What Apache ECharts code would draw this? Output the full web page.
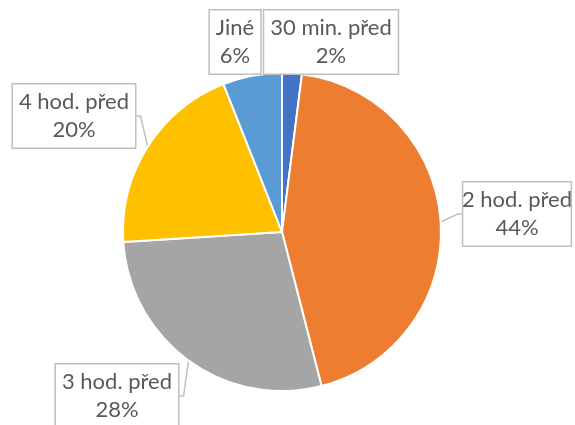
<!DOCTYPE html>
<html>
<head>
<meta charset="utf-8">
<script src="https://cdn.jsdelivr.net/npm/echarts@6/dist/echarts.min.js"></script>
<style>
  html, body { margin: 0; padding: 0; background: #fff; }
  #pieChart { width: 575px; height: 425px; }
</style>
</head>
<body>
<div id="pieChart"></div>
<script>
var categories = ['30 min. před', '2 hod. před', '3 hod. před', '4 hod. před', 'Jiné'];
var shares = [2, 44, 28, 20, 6];
var colors = ['#4472C4', '#ED7D31', '#A5A5A5', '#FFC000', '#5B9BD5'];

// where each callout box sits (centre of the box)
var labelSpots = [
  { x: 331, y: 42, line: false },
  { x: 517, y: 214, line: true },
  { x: 117, y: 396, line: true },
  { x: 74, y: 116, line: true },
  { x: 235, y: 42, line: false }
];

var pieChartDom = document.getElementById('pieChart');
var pieChart = echarts.init(pieChartDom);

var pieData = categories.map(function (name, i) {
  return {
    name: name,
    value: shares[i],
    itemStyle: { color: colors[i] },
    labelLine: { show: labelSpots[i].line }
  };
});

pieChartOption = {
    animation: false,
    series: [
      {
        type: 'pie',
        center: [282, 232],
        radius: 159,
        startAngle: 90,
        clockwise: true,
        data: pieData,
        itemStyle: {
            borderColor: '#fff',
            borderWidth: 2
        },
        label: {
            show: true,
            formatter: '{b}\n{d}%',
            fontFamily: 'Lato',
            fontSize: 22,
            lineHeight: 28,
            color: '#595959',
            align: 'center',
            overflow: 'none',
            backgroundColor: '#fff',
            borderColor: '#bfbfbf',
            borderWidth: 1.5,
            padding: [4, 6, 3, 6]
        },
        labelLine: {
            length: 8,
            length2: 4,
            lineStyle: { color: '#bfbfbf', width: 1.5 }
        },
        labelLayout: function (params) {
            var s = labelSpots[params.dataIndex];
            return {
                x: s.x,
                y: s.y,
                align: 'center',
                verticalAlign: 'middle'
            };
        },
        emphasis: { disabled: true }
      }
    ]
};

pieChart.setOption(pieChartOption);
</script>
</body>
</html>
